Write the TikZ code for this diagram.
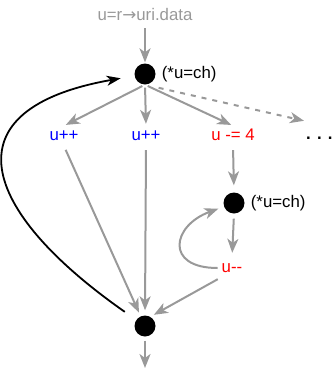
\documentclass[tikz,border=0pt]{standalone}
\usepackage{fontspec}
\setmainfont{Liberation Sans}
\newfontfamily\arrowfont{DejaVu Sans}
\usetikzlibrary{arrows.meta,positioning}
\definecolor{flowgray}{HTML}{999999}
\definecolor{incblue}{HTML}{0000FF}
\definecolor{decred}{HTML}{FF0000}

\begin{document}
\begin{tikzpicture}[x=1pt, y=1pt,
    every node/.style={font=\fontsize{16.8}{19}\selectfont},
    state/.style={circle, fill=black, minimum size=21pt, inner sep=0pt},
    stmt/.style={inner sep=2pt, text height=12pt, text depth=4pt, anchor=base},
    note/.style={inner sep=2pt},
    flow/.style={-{Stealth[length=14pt, width=11pt, inset=4pt]}, line width=2pt, color=flowgray},
    back/.style={-{Stealth[length=14pt, width=10pt, inset=4pt]}, line width=1.8pt, color=black}
  ]
    \useasboundingbox (0,0) rectangle (332,-370);

    \node[stmt, text=flowgray] (load) at (145,-20) {u=r{\arrowfont →}uri.data};
    \node[state] (d1) at (145,-74) {};
    \node[note, right=4pt of d1] (c1) {(*u=ch)};

    \node[stmt, text=incblue] (inc1) at (64,-140) {u++};
    \node[stmt, text=incblue] (inc2) at (146,-140) {u++};
    \node[stmt, text=decred] (sub) at (233,-140) {u -= 4};
    \node[stmt, anchor=base west, text height=16pt] (more) at (304,-139) {\textbf{. . .}};

    \node[state] (d2) at (234,-203) {};
    \node[note, right=4pt of d2] (c2) {(*u=ch)};
    \node[stmt, text=decred] (dec) at (232,-272) {u-{}-};

    \node[state] (d3) at (145,-326) {};
    \coordinate (exit) at (145,-368);

    % entry
    \draw[flow, shorten <=2pt, shorten >=1pt] (load.south) -- (d1.north);

    % branches
    \draw[flow, shorten <=3pt, shorten >=2pt] (d1.south) -- (inc1.north);
    \draw[flow, shorten <=3pt, shorten >=2pt] (d1.south) -- (inc2.north);
    \draw[flow, shorten <=3pt, shorten >=2pt] (d1.south) -- (sub.north);
    \draw[flow, dash pattern=on 5pt off 6pt, shorten <=14pt] (d1.south) -- (more.north west);

    % inner loop
    \draw[flow, shorten <=4pt, shorten >=7pt] (sub.south) -- (d2.north);
    \draw[flow, shorten <=5pt, shorten >=5pt] (d2.south) -- (dec.north);
    \draw[flow, shorten <=2pt, shorten >=6pt] (dec) to[out=180, in=200, looseness=2.3] (d2);

    % merge
    \draw[flow, shorten <=4pt, shorten >=4pt] (inc1.south) -- (d3);
    \draw[flow, shorten <=4pt, shorten >=5pt] (inc2.south) -- (d3.north);
    \draw[flow, shorten <=2pt, shorten >=4pt] (dec.south west) -- (d3.60);
    \draw[flow, shorten <=4pt] (d3.south) -- (exit);

    % back edge
    \draw[back, shorten <=14pt, shorten >=14pt] (d3) to[out=145, in=190, looseness=2] (d1);
\end{tikzpicture}
\end{document}
